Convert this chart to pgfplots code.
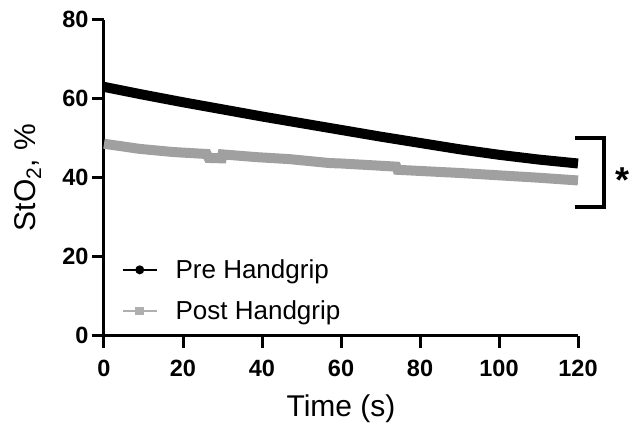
\documentclass[border=0pt]{standalone}
\usepackage{pgfplots}
\pgfplotsset{compat=1.18}
\usepackage{fontspec}
\setmainfont{Liberation Sans}
\definecolor{postgray}{RGB}{160,160,160}
\definecolor{leggray}{RGB}{175,175,175}
\begin{document}
\begin{tikzpicture}
\begin{axis}[
  scale only axis,
  width=474pt, height=316pt,
  xmin=0, xmax=120, ymin=0, ymax=80,
  clip=false,
  axis x line*=bottom, axis y line*=left,
  axis line style={line width=3pt, black},
  xtick={0,20,...,120}, ytick={0,20,...,80},
  tick align=outside,
  major tick length=12pt,
  tick style={line width=3pt, black},
  /pgf/number format/assume math mode=true,
  ticklabel style={font=\fontsize{23.5}{27}\selectfont\bfseries},
  xticklabel style={yshift=-9pt},
  xlabel={Time (s)},
  ylabel={StO\textsubscript{2}, \%},
  label style={font=\fontsize{30}{34}\selectfont},
  xlabel style={at={(axis description cs:0.5,-0.231)}, anchor=center},
  ylabel style={at={(axis description cs:-0.161,0.5)}, anchor=center},
  legend style={draw=none, fill=none, at={(axis description cs:0.031,0.143)}, anchor=west,
    font=\fontsize{26}{30}\selectfont, row sep=17pt},
  legend cell align=left,
  legend image code/.code={\draw[mark repeat=2,mark phase=2,#1] plot coordinates {(0pt,0pt) (17pt,0pt) (34pt,0pt)}; \path (50pt,0pt);},
]
\addplot[postgray, line width=10pt, line cap=butt, forget plot] coordinates {
  (0,48.6)(9,47.3)(17.5,46.5)(26,46.0)(26.5,45.0)(29.8,44.9)(30,45.9)(38.7,45.2)
  (47,44.7)(57.2,43.7)(60,43.6)(74,42.8)(74.3,42.0)(90,41.2)(100,40.6)(110,40.0)(120,39.3)
};
\addplot[black, line width=10pt, line cap=butt, forget plot] coordinates {
  (0,63.0)(10,61.0)(20,59.1)(30,57.3)(40,55.5)(50,53.8)(60,52.1)(70,50.4)
  (80,48.8)(90,47.2)(100,45.8)(110,44.6)(120,43.6)
};
\addlegendimage{black, line width=1.7pt, mark=*, mark size=3.6pt}
\addlegendentry{Pre Handgrip}
\addlegendimage{leggray, line width=1.7pt, mark=square*, mark size=3.4pt}
\addlegendentry{Post Handgrip}
\draw[line width=4pt, black, line join=miter] (axis cs:119.2,50) -- (axis cs:126.6,50) -- (axis cs:126.6,32.6) -- (axis cs:119.2,32.6);
\node[font=\fontsize{36}{40}\selectfont\bfseries] at (axis cs:131.2,39.5) {*};
\coordinate (o) at (rel axis cs:0,0);
\end{axis}
\path (o) ++(-104pt,-87.3pt) rectangle ++(636pt,423pt);
\end{tikzpicture}
\end{document}
